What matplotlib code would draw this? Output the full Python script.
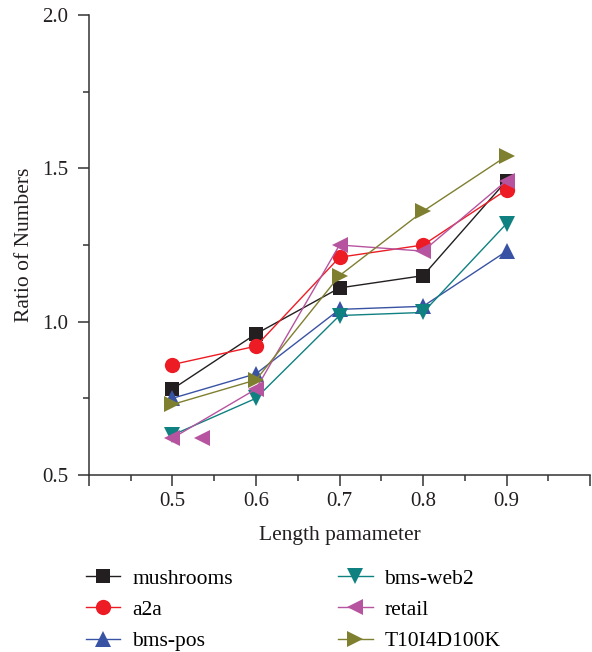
import matplotlib
matplotlib.use("Agg")
import matplotlib.pyplot as plt
from matplotlib.ticker import MultipleLocator, FixedLocator, FixedFormatter

plt.rcParams['font.family'] = ['Liberation Serif', 'DejaVu Serif']

x = [0.5, 0.6, 0.7, 0.8, 0.9]
mushrooms = [0.78, 0.96, 1.11, 1.15, 1.46]
a2a = [0.86, 0.92, 1.21, 1.25, 1.43]
bms_pos = [0.75, 0.83, 1.04, 1.05, 1.23]
bms_web2 = [0.63, 0.75, 1.02, 1.03, 1.32]
retail = [0.62, 0.78, 1.25, 1.23, 1.46]
t10 = [0.73, 0.81, 1.15, 1.36, 1.54]
retail_extra_x = [0.536]
retail_extra_y = [0.62]

names = ['mushrooms', 'a2a', 'bms-pos', 'bms-web2', 'retail', 'T10I4D100K']
colors = ['#231f20', '#ed1c24', '#3953a4', '#0f8180', '#b754a0', '#7f7f30']
markers = ['s', 'o', '^', 'v', '<', '>']
sizes = [10, 11, 11, 11, 11, 11]

fig = plt.figure(figsize=(5.92, 6.52), dpi=100)
ax = fig.add_axes([0.150, 0.2715, 0.847, 0.7055])

series = [mushrooms, a2a, bms_pos, bms_web2, retail, t10]
handles = []
for ys, n, c, m, s in zip(series, names, colors, markers, sizes):
    h, = ax.plot(x, ys, color=c, marker=m, markersize=s, linewidth=1.0,
                 markeredgewidth=0, label=n)
    handles.append(h)
ax.plot(retail_extra_x, retail_extra_y, linestyle='none', marker='<',
        markersize=11, markeredgewidth=0, color=colors[4])

ax.set_xlim(0.4, 1.0)
ax.set_ylim(0.5, 2.0)
ax.xaxis.set_major_locator(FixedLocator([0.4, 0.5, 0.6, 0.7, 0.8, 0.9, 1.0]))
ax.xaxis.set_major_formatter(FixedFormatter(['', '0.5', '0.6', '0.7', '0.8', '0.9', '']))
ax.xaxis.set_minor_locator(MultipleLocator(0.05))
ax.yaxis.set_major_locator(MultipleLocator(0.5))
ax.yaxis.set_minor_locator(MultipleLocator(0.25))
ax.yaxis.set_major_formatter(matplotlib.ticker.FormatStrFormatter('%.1f'))

for side in ['top', 'right']:
    ax.spines[side].set_visible(False)
for side in ['left', 'bottom']:
    ax.spines[side].set_linewidth(1.1)
    ax.spines[side].set_color('#333333')
ax.tick_params(which='major', direction='out', length=8, width=1.1, color='#333333',
               labelsize=15, labelcolor='#231f20')
ax.tick_params(axis='y', which='major', pad=7)
ax.tick_params(axis='x', which='major', pad=4)
ax.tick_params(which='minor', direction='out', length=4.5, width=1.1, color='#333333')

ax.set_xlabel('Length pamameter', fontsize=15.5, color='#231f20', labelpad=11)
ax.set_ylabel('Ratio of Numbers', fontsize=15.5, color='#231f20', labelpad=6)

fig.legend(handles, names, loc='upper left', bbox_to_anchor=(0.145, 0.128),
           ncol=2, frameon=False, fontsize=15.5, handlelength=1.6,
           columnspacing=4.9, labelspacing=0.52, handletextpad=0.55,
           borderaxespad=0, borderpad=0)

fig.savefig('out.png', dpi=100)
